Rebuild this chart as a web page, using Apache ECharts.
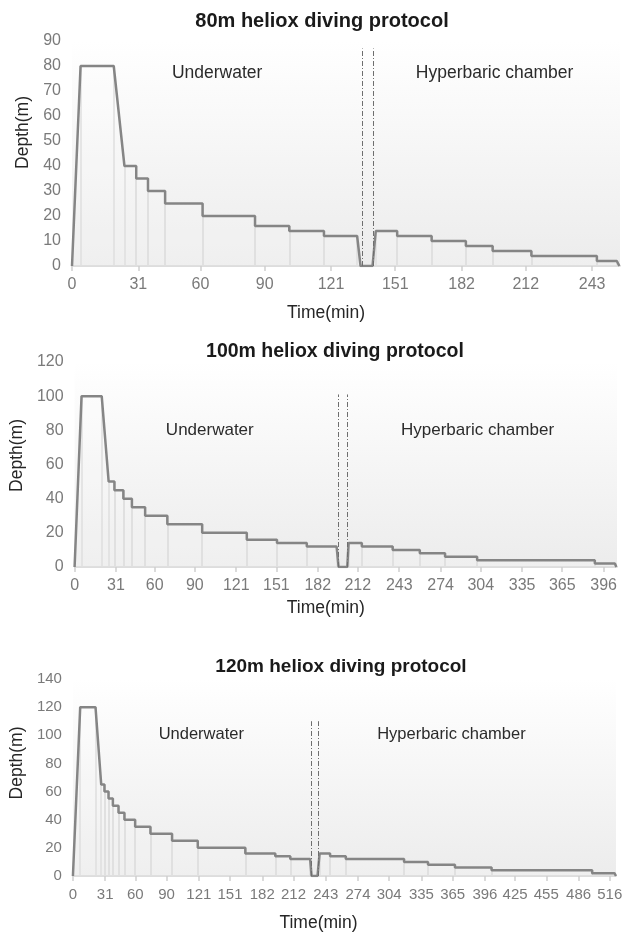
<!DOCTYPE html>
<html>
<head>
<meta charset="utf-8">
<script src="https://cdn.jsdelivr.net/npm/echarts@6/dist/echarts.min.js"></script>
<style>
html, body { margin: 0; padding: 0; background: #fff; }
#chart { width: 626px; height: 934px; }
</style>
</head>
<body>
<div id="chart"></div>
<script>
// dive profiles: vertices of the depth curve (minutes, metres)
const time80 = [0, 4, 19.5, 24.5, 30, 30, 35.5, 35.5, 43.5, 43.5, 61, 61, 85.5, 85.5, 101.5, 101.5, 117.7, 117.7,
  133.2, 134.8, 140.4, 141.9, 151.9, 151.9, 168, 168, 184, 184, 196.5, 196.5, 214.6, 214.6, 245.2, 245.2, 254.5, 255.7]
const depth80 = [0, 80, 80, 40, 40, 35, 35, 30, 30, 25, 25, 20, 20, 16, 16, 14, 14, 12,
  12, 0, 0, 14, 14, 12, 12, 10, 10, 8, 8, 6, 6, 4, 4, 2, 2, 0]

const time100 = [0, 5.2, 20.3, 25.5, 29.8, 29.8, 36.5, 36.5, 42.9, 42.9, 52.8, 52.8, 69.4, 69.4, 95.5, 95.5,
  128.9, 128.9, 151.5, 151.5, 173.8, 173.8, 196.1, 197.6, 204.1, 205.1, 215, 215, 238.1, 238.1, 258.4, 258.4,
  277.3, 277.3, 301.3, 301.3, 389.4, 389.4, 404.5, 405.5]
const depth100 = [0, 100, 100, 50, 50, 45, 45, 40, 40, 35, 35, 30, 30, 25, 25, 20,
  20, 16, 16, 14, 14, 12, 12, 0, 0, 14, 14, 12, 12, 10, 10, 8,
  8, 6, 6, 4, 4, 2, 2, 0]

const time120 = [0, 7, 21.7, 27.2, 30.3, 30.3, 34.2, 34.2, 38.4, 38.4, 43.8, 43.8, 49.5, 49.5, 59.8, 59.8,
  74.5, 74.5, 95.3, 95.3, 120, 120, 165.7, 165.7, 194.5, 194.5, 208.9, 208.9, 228, 229.4, 235.1, 237.1,
  247.2, 247.2, 262.3, 262.3, 318.3, 318.3, 341.3, 341.3, 367.2, 367.2, 402.4, 402.4, 499.1, 499.1, 520.5, 522]
const depth120 = [0, 120, 120, 65, 65, 60, 60, 55, 55, 50, 50, 45, 45, 40, 40, 35,
  35, 30, 30, 25, 25, 20, 20, 16, 16, 14, 14, 12, 12, 0, 0, 16,
  16, 14, 14, 12, 12, 10, 10, 8, 8, 6, 6, 4, 4, 2, 2, 0]

// x tick labels
const ticks80 = [0, 31, 60, 90, 121, 151, 182, 212, 243]
const ticks100 = [0, 31, 60, 90, 121, 151, 182, 212, 243, 274, 304, 335, 365, 396]
const ticks120 = [0, 31, 60, 90, 121, 151, 182, 212, 243, 274, 304, 335, 365, 396, 425, 455, 486, 516]

// surface interval markers (time) and their top depth
const surface80 = [135.7, 140.7]
const surface100 = [197.6, 203.9]
const surface120 = [229.4, 235.7]
const markTop = [87, 101, 110]

const titles = ['80m heliox diving protocol', '100m heliox diving protocol', '120m heliox diving protocol']
const phases = ['Underwater', 'Hyperbaric chamber']

const panels = [
  { t: time80, d: depth80, ticks: ticks80, surf: surface80, xMax: 256, yMax: 90, yStep: 10,
    grid: { left: 72, top: 41, width: 548, height: 225 }, titleX: 322, titleTop: 11, titleSize: 20,
    phaseAt: [[67.8, 77], [197.4, 77]], phaseSize: 17.5, tickSize: 16,
    yNameGap: 38, yNameShift: 42, xNameGap: 38, xNameShift: 40 },
  { t: time100, d: depth100, ticks: ticks100, surf: surface100, xMax: 406, yMax: 120, yStep: 20,
    grid: { left: 72, top: 362, width: 545, height: 205 }, titleX: 335, titleTop: 342, titleSize: 19.5,
    phaseAt: [[101.2, 80], [301.6, 80]], phaseSize: 17, tickSize: 16,
    yNameGap: 40, yNameShift: 18, xNameGap: 32, xNameShift: 40 },
  { t: time120, d: depth120, ticks: ticks120, surf: surface120, xMax: 522, yMax: 140, yStep: 20,
    grid: { left: 72, top: 679, width: 544, height: 197 }, titleX: 341, titleTop: 657, titleSize: 19,
    phaseAt: [[123.4, 100.3], [363.8, 100.3]], phaseSize: 16.5, tickSize: 15,
    yNameGap: 43, yNameShift: 29, xNameGap: 38, xNameShift: 52 }
]

const FONT = '"Liberation Sans", Arial, sans-serif'

const chart = echarts.init(document.getElementById('chart'))

const option = {
  animation: false,
  textStyle: { fontFamily: FONT },
  title: [],
  grid: [],
  xAxis: [],
  yAxis: [],
  series: []
}

panels.forEach((p, k) => {
  option.title.push({
    text: titles[k],
    left: p.titleX,
    top: p.titleTop,
    padding: 0,
    textAlign: 'center',
    textStyle: { fontFamily: FONT, fontSize: p.titleSize, fontWeight: 'bold', color: '#1a1a1a' }
  })

  option.grid.push(Object.assign({
    show: true,
    borderWidth: 0,
    backgroundColor: new echarts.graphic.LinearGradient(0, 0, 0, 1, [
      { offset: 0, color: '#ffffff' },
      { offset: 1, color: '#ececec' }
    ])
  }, p.grid))

  option.xAxis.push({
    type: 'value',
    gridIndex: k,
    min: 0,
    max: p.xMax,
    name: 'Time(min)',
    nameLocation: 'middle',
    nameGap: p.xNameGap,
    nameTextStyle: { fontSize: 17.5, color: '#262626', padding: [0, p.xNameShift, 0, 0] },
    axisLine: { lineStyle: { color: '#d2d2d2', width: 1.5 } },
    axisTick: { show: true, length: 5, customValues: p.ticks, lineStyle: { color: '#cfcfcf', width: 1.5 } },
    axisLabel: { customValues: p.ticks, fontSize: p.tickSize, color: '#7a7a7a', margin: 11 },
    splitLine: { show: false }
  })

  option.yAxis.push({
    type: 'value',
    gridIndex: k,
    min: 0,
    max: p.yMax,
    interval: p.yStep,
    name: 'Depth(m)',
    nameLocation: 'middle',
    nameGap: p.yNameGap,
    nameTextStyle: { fontSize: 17.5, color: '#262626', padding: [0, 0, 0, p.yNameShift] },
    axisLine: { show: false },
    axisTick: { show: false },
    axisLabel: { fontSize: p.tickSize, color: '#7a7a7a', margin: 11 },
    splitLine: { show: false }
  })

  const pts = p.t.map((x, i) => [x, p.d[i]])

  // faint drop lines from every vertex of the profile down to the axis
  const drops = pts
    .filter((pt, i) => i > 0 && i < pts.length - 1 && pt[1] > 0)
    .map(pt => [{ coord: [pt[0], 0] }, { coord: [pt[0], pt[1]] }])

  option.series.push({
    type: 'line',
    xAxisIndex: k,
    yAxisIndex: k,
    data: [],
    silent: true,
    markLine: {
      z: 1,
      silent: true,
      symbol: 'none',
      label: { show: false },
      lineStyle: { color: '#d9d9d9', width: 1.5, type: 'solid' },
      data: drops
    }
  })

  option.series.push({
    type: 'line',
    xAxisIndex: k,
    yAxisIndex: k,
    z: 3,
    data: pts,
    showSymbol: false,
    symbol: 'none',
    lineStyle: { color: '#858585', width: 2.5 },
    areaStyle: { color: 'rgba(255,255,255,0.25)' },
    markLine: {
      z: 4,
      silent: true,
      symbol: 'none',
      label: { show: false },
      lineStyle: { color: '#6e6e6e', width: 1, type: [5, 2, 1, 2] },
      data: p.surf.map(x => [{ coord: [x, 0] }, { coord: [x, markTop[k]] }])
    },
    markPoint: {
      silent: true,
      symbol: 'rect',
      symbolSize: 1,
      itemStyle: { color: 'rgba(0,0,0,0)' },
      label: { show: true, position: 'inside', fontSize: p.phaseSize, color: '#2b2b2b', formatter: '{b}' },
      data: p.phaseAt.map((c, j) => ({ name: phases[j], coord: c }))
    }
  })
})

chart.setOption(option)
</script>
</body>
</html>
